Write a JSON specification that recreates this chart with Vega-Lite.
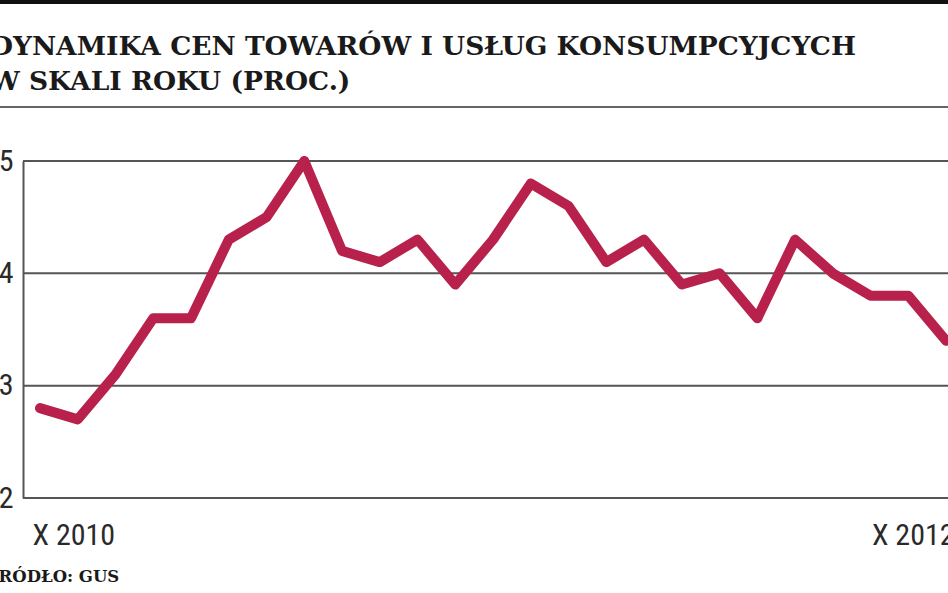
{
  "$schema": "https://vega.github.io/schema/vega-lite/v6.json",
  "autosize": {"type": "none"},
  "padding": {"left": 23, "top": 161, "right": 0, "bottom": 95},
  "width": 925,
  "height": 337,
  "background": "#ffffff",
  "title": {
    "text": ["DYNAMIKA CEN TOWARÓW I USŁUG KONSUMPCYJCYCH", "W SKALI ROKU (PROC.)"],
    "anchor": "start",
    "frame": "group",
    "dx": -33,
    "offset": -97,
    "font": "DejaVu Serif",
    "fontWeight": "bold",
    "fontSize": 26.5,
    "lineHeight": 35,
    "color": "#1a1a1a"
  },
  "config": {
    "view": {"stroke": null},
    "axis": {
      "labelFont": "Liberation Sans Narrow, Roboto Condensed, Roboto",
      "labelColor": "#2a2a2a",
      "labelFontSize": 30,
      "ticks": false,
      "grid": false
    }
  },
  "data": {
    "values": [
      {"m": 0, "okres": "2010-10", "cpi": 2.8},
      {"m": 1, "okres": "2010-11", "cpi": 2.7},
      {"m": 2, "okres": "2010-12", "cpi": 3.1},
      {"m": 3, "okres": "2011-01", "cpi": 3.6},
      {"m": 4, "okres": "2011-02", "cpi": 3.6},
      {"m": 5, "okres": "2011-03", "cpi": 4.3},
      {"m": 6, "okres": "2011-04", "cpi": 4.5},
      {"m": 7, "okres": "2011-05", "cpi": 5.0},
      {"m": 8, "okres": "2011-06", "cpi": 4.2},
      {"m": 9, "okres": "2011-07", "cpi": 4.1},
      {"m": 10, "okres": "2011-08", "cpi": 4.3},
      {"m": 11, "okres": "2011-09", "cpi": 3.9},
      {"m": 12, "okres": "2011-10", "cpi": 4.3},
      {"m": 13, "okres": "2011-11", "cpi": 4.8},
      {"m": 14, "okres": "2011-12", "cpi": 4.6},
      {"m": 15, "okres": "2012-01", "cpi": 4.1},
      {"m": 16, "okres": "2012-02", "cpi": 4.3},
      {"m": 17, "okres": "2012-03", "cpi": 3.9},
      {"m": 18, "okres": "2012-04", "cpi": 4.0},
      {"m": 19, "okres": "2012-05", "cpi": 3.6},
      {"m": 20, "okres": "2012-06", "cpi": 4.3},
      {"m": 21, "okres": "2012-07", "cpi": 4.0},
      {"m": 22, "okres": "2012-08", "cpi": 3.8},
      {"m": 23, "okres": "2012-09", "cpi": 3.8},
      {"m": 24, "okres": "2012-10", "cpi": 3.4}
    ]
  },
  "layer": [
    {
      "mark": {"type": "rule", "color": "#555555", "strokeWidth": 2},
      "data": {"values": [{"v": 2}, {"v": 3}, {"v": 4}, {"v": 5}]},
      "encoding": {
        "y": {
          "field": "v",
          "type": "quantitative",
          "scale": {"domain": [2, 5], "nice": false, "zero": false},
          "axis": {
            "values": [2, 3, 4, 5],
            "format": "d",
            "domain": true,
            "domainColor": "#555555",
            "domainWidth": 2,
            "labelPadding": 10,
            "title": null
          }
        }
      }
    },
    {
      "mark": {"type": "rule", "color": "#111111", "strokeWidth": 5, "clip": false},
      "encoding": {
        "y": {"datum": 6.425, "type": "quantitative"},
        "x": {"datum": -2, "type": "quantitative"},
        "x2": {"datum": 26}
      }
    },
    {
      "mark": {"type": "rule", "color": "#666666", "strokeWidth": 1.5, "clip": false},
      "encoding": {
        "y": {"datum": 5.48, "type": "quantitative"},
        "x": {"datum": -2, "type": "quantitative"},
        "x2": {"datum": 26}
      }
    },
    {
      "mark": {"type": "line", "color": "#b8214b", "strokeWidth": 10, "strokeJoin": "round", "strokeCap": "round"},
      "encoding": {
        "x": {
          "field": "m",
          "type": "quantitative",
          "scale": {"domain": [-0.45, 24.05], "nice": false, "zero": false},
          "axis": {
            "values": [0, 24],
            "domain": false,
            "labelExpr": "datum.value == 0 ? 'X 2010' : 'X 2012'",
            "labelAlign": {"condition": {"test": "datum.value == 0", "value": "left"}, "value": "right"},
            "labelOffset": {"condition": {"test": "datum.value == 0", "value": -8}, "value": 8},
            "labelPadding": 22,
            "labelFontWeight": "normal",
            "title": "ŹRÓDŁO: GUS",
            "titleFont": "DejaVu Serif",
            "titleFontWeight": "bold",
            "titleFontSize": 16.5,
            "titleColor": "#1a1a1a",
            "titleAnchor": "start",
            "titleAlign": "left",
            "titleX": -37,
            "titlePadding": 18
          }
        },
        "y": {
          "field": "cpi",
          "type": "quantitative",
          "scale": {"domain": [2, 5], "nice": false, "zero": false}
        },
        "tooltip": [
          {"field": "okres", "type": "nominal", "title": "Miesiąc"},
          {"field": "cpi", "type": "quantitative", "title": "Inflacja r/r (%)"}
        ]
      }
    }
  ]
}
